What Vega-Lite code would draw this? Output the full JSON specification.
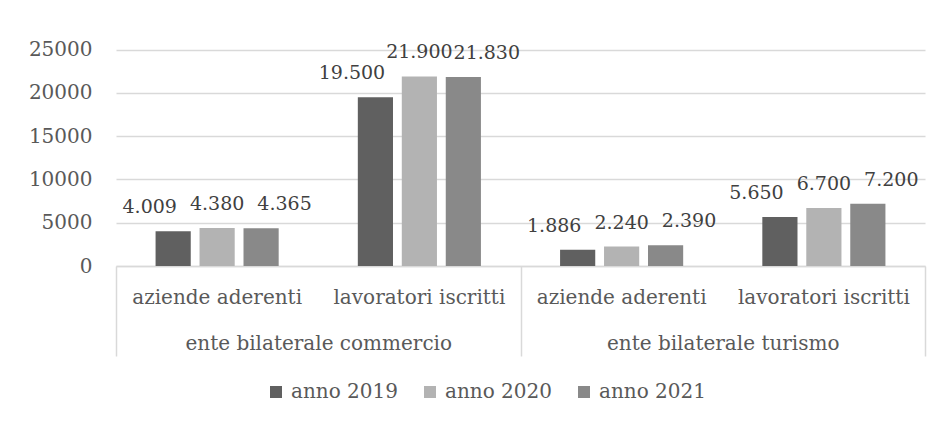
{
  "$schema": "https://vega.github.io/schema/vega-lite/v6.json",
  "width": 809,
  "height": 225,
  "autosize": "none",
  "padding": {"left": 116, "top": 41, "right": 21, "bottom": 158},
  "background": "white",
  "data": {
    "values": [
      {"gruppo": "ente bilaterale commercio", "voce": "aziende aderenti", "anno": "anno 2019", "valore": 4009},
      {"gruppo": "ente bilaterale commercio", "voce": "aziende aderenti", "anno": "anno 2020", "valore": 4380},
      {"gruppo": "ente bilaterale commercio", "voce": "aziende aderenti", "anno": "anno 2021", "valore": 4365},
      {"gruppo": "ente bilaterale commercio", "voce": "lavoratori iscritti", "anno": "anno 2019", "valore": 19500},
      {"gruppo": "ente bilaterale commercio", "voce": "lavoratori iscritti", "anno": "anno 2020", "valore": 21900},
      {"gruppo": "ente bilaterale commercio", "voce": "lavoratori iscritti", "anno": "anno 2021", "valore": 21830},
      {"gruppo": "ente bilaterale turismo", "voce": "aziende aderenti", "anno": "anno 2019", "valore": 1886},
      {"gruppo": "ente bilaterale turismo", "voce": "aziende aderenti", "anno": "anno 2020", "valore": 2240},
      {"gruppo": "ente bilaterale turismo", "voce": "aziende aderenti", "anno": "anno 2021", "valore": 2390},
      {"gruppo": "ente bilaterale turismo", "voce": "lavoratori iscritti", "anno": "anno 2019", "valore": 5650},
      {"gruppo": "ente bilaterale turismo", "voce": "lavoratori iscritti", "anno": "anno 2020", "valore": 6700},
      {"gruppo": "ente bilaterale turismo", "voce": "lavoratori iscritti", "anno": "anno 2021", "valore": 7200}
    ]
  },
  "transform": [{"calculate": "datum.gruppo + '|' + datum.voce", "as": "slot"}],
  "layer": [
    {
      "layer": [
        {
          "mark": {"type": "bar"},
          "encoding": {
            "x": {
              "field": "slot", "type": "nominal",
              "scale": {"paddingInner": 0, "paddingOuter": 0},
              "axis": {
                "title": null, "labelAngle": 0, "ticks": false,
                "labelExpr": "split(datum.label, '|')[1]",
                "domainColor": "#d9d9d9", "domainWidth": 1.5,
                "labelPadding": 21, "labelColor": "#595959", "labelLimit": 0,
                "labelFont": "DejaVu Serif", "labelFontSize": 20
              }
            },
            "xOffset": {"field": "anno", "type": "nominal", "scale": {"paddingInner": 0.2, "paddingOuter": 0.9}},
            "y": {
              "field": "valore", "type": "quantitative",
              "scale": {"domain": [0, 25000]},
              "axis": {
                "title": null, "values": [0, 5000, 10000, 15000, 20000, 25000],
                "format": "d", "domain": false, "ticks": false,
                "labelPadding": 24, "labelColor": "#595959",
                "labelFont": "DejaVu Serif", "labelFontSize": 20,
                "gridColor": "#d9d9d9", "gridWidth": 1.5
              }
            },
            "color": {
              "field": "anno", "type": "nominal",
              "scale": {"range": ["#606060", "#b3b3b3", "#898989"]},
              "legend": {
                "title": null, "orient": "none", "direction": "horizontal",
                "legendX": 150, "legendY": 341, "padding": 0,
                "symbolType": "square", "symbolSize": 144, "symbolStrokeWidth": 0,
                "labelOffset": 5, "columnPadding": 22,
                "labelColor": "#595959", "labelFont": "DejaVu Serif", "labelFontSize": 20
              }
            }
          }
        },
        {
          "mark": {"type": "text", "baseline": "alphabetic", "dy": -18, "font": "DejaVu Serif", "fontSize": 19, "color": "#404040"},
          "encoding": {
            "x": {"field": "slot", "type": "nominal"},
            "xOffset": {"field": "anno", "type": "nominal", "scale": {"paddingInner": 0, "paddingOuter": 0.5}},
            "y": {"field": "valore", "type": "quantitative"},
            "text": {"field": "valore", "type": "quantitative", "format": ",d"}
          }
        }
      ],
      "resolve": {"scale": {"xOffset": "independent"}}
    },
    {
      "mark": {"type": "text", "opacity": 0},
      "encoding": {
        "x": {
          "field": "gruppo", "type": "nominal",
          "scale": {"paddingInner": 0, "paddingOuter": 0},
          "axis": {
            "title": null, "orient": "bottom", "labelAngle": 0,
            "tickBand": "extent", "tickSize": 90,
            "tickColor": "#d9d9d9", "tickWidth": 1.5, "domain": false,
            "labelPadding": -23, "labelColor": "#595959", "labelLimit": 0,
            "labelFont": "DejaVu Serif", "labelFontSize": 20
          }
        },
        "text": {"value": ""}
      }
    }
  ],
  "resolve": {"scale": {"x": "independent"}, "axis": {"x": "independent"}},
  "config": {
    "view": {"stroke": null},
    "locale": {"number": {"decimal": ",", "thousands": ".", "grouping": [3], "currency": ["€", ""]}}
  }
}
